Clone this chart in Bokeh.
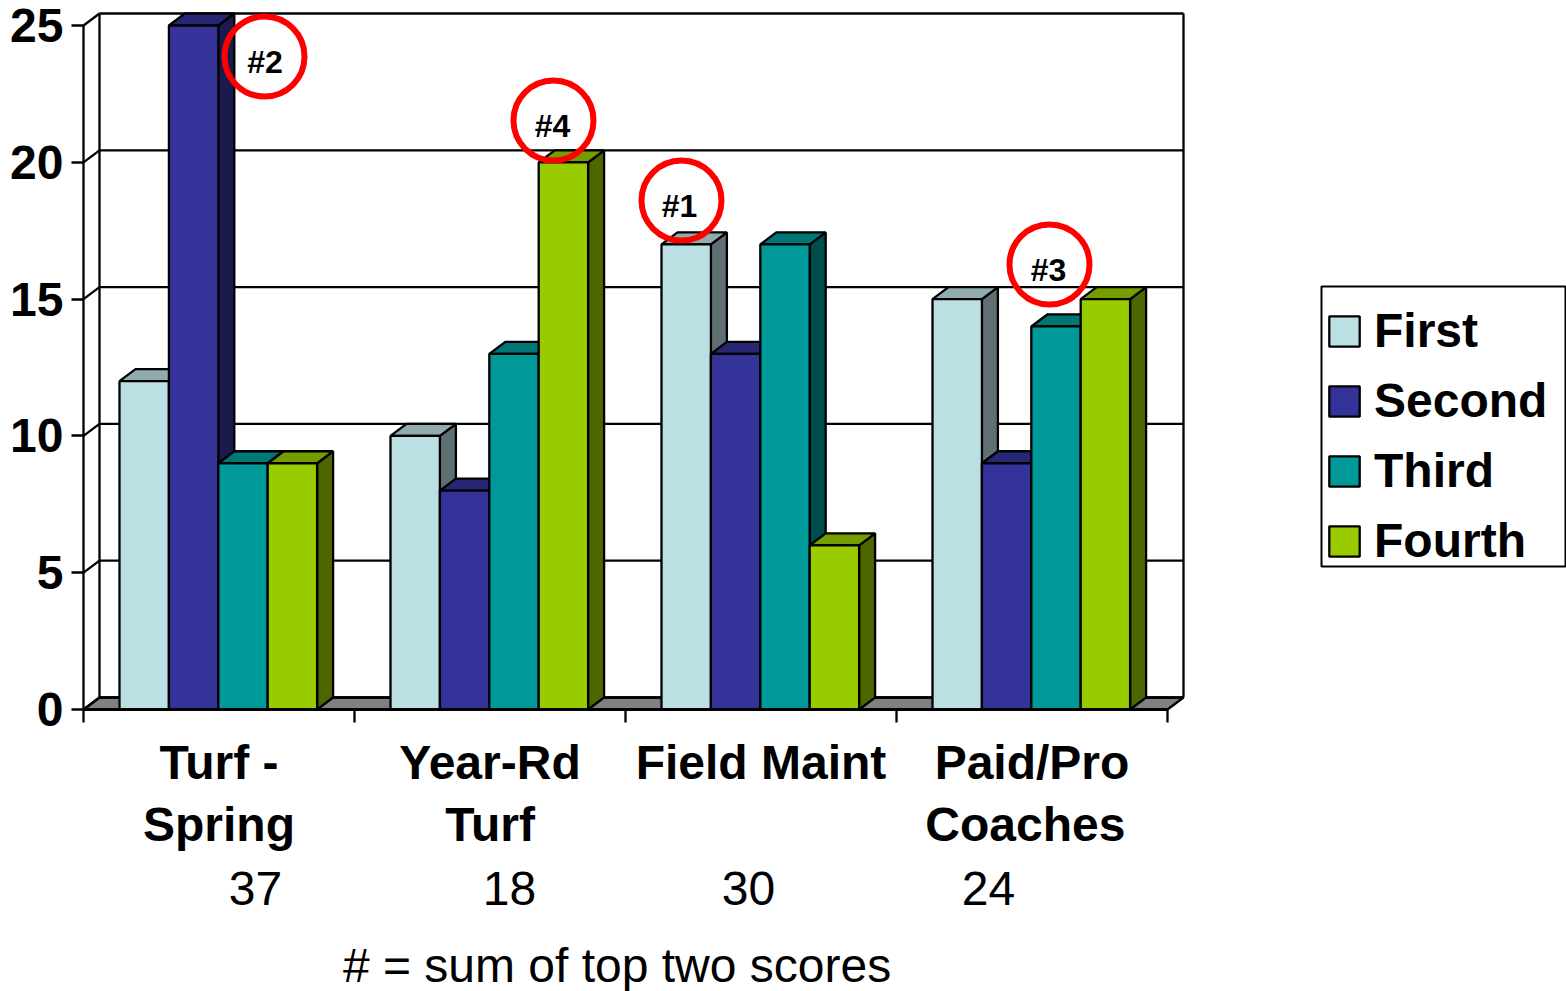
from bokeh.plotting import figure
from bokeh.models import FixedTicker, Legend, LegendItem, LinearAxis, Range1d
from bokeh.core.properties import value
from bokeh.embed import file_html
from bokeh.resources import INLINE

categories = ["Turf -\nSpring", "Year-Rd\nTurf", "Field Maint", "Paid/Pro\nCoaches "]
series_names = ["First", "Second", "Third", "Fourth"]
first = [12, 10, 17, 15]
second = [25, 8, 13, 9]
third = [9, 13, 17, 14]
fourth = [9, 20, 6, 15]
totals = ["37", "18", "30", "24"]
y_ticks = [0, 5, 10, 15, 20, 25]
front_colors = ["#BBE0E3", "#333399", "#009999", "#99CC00"]
top_colors = ["#90ACAE", "#272776", "#007676", "#769D00"]
side_colors = ["#5E7072", "#1A1A4D", "#004D4D", "#4D6600"]
rank_labels = ["#2", "#4", "#1", "#3"]
rank_x_px = [264, 553, 681, 1049]
rank_y_px = [56, 120, 200, 264]
rank_text_x_px = [264.5, 552, 679, 1048]
rank_text_y_px = [61, 125, 205.5, 269.5]
total_x_px = [255, 509, 748, 988]
FONT = "Liberation Sans"

W, H = 1566, 991
L, B = 83, 709
PX_X = 271.0
PX_Y = 27.36
DX = 16 / PX_X
DY = 12 / PX_Y
BAR = 49.4 / PX_X
OFFSET = 36 / PX_X
EDGE = 2.3


def dx(px):
    return (px - L) / PX_X


def dy(py):
    return (B - py) / PX_Y


p = figure(width=W, height=H, output_backend="svg", toolbar_location=None,
           x_range=Range1d(dx(0), dx(W)), y_range=Range1d(dy(H), dy(0)),
           x_axis_location=None, y_axis_location=None,
           min_border_left=0, min_border_right=0, min_border_top=0, min_border_bottom=0,
           outline_line_color=None)
p.grid.visible = False

n_groups = len(categories)
top_y = max(y_ticks)

# walls and floor
p.patch([0, DX, n_groups + DX, n_groups], [0, DY, DY, 0],
        fill_color="#808080", line_color="black", line_width=EDGE)
p.segment([DX] * len(y_ticks), [t + DY for t in y_ticks],
          [n_groups + DX] * len(y_ticks), [t + DY for t in y_ticks], line_color="black", line_width=EDGE)
p.segment([0] * len(y_ticks), y_ticks, [DX] * len(y_ticks), [t + DY for t in y_ticks],
          line_color="black", line_width=EDGE)
p.segment([DX, n_groups + DX], [DY, DY], [DX, n_groups + DX], [top_y + DY, top_y + DY],
          line_color="black", line_width=EDGE)

# 3D bars
legend_items = []
for s, (name, vals) in enumerate(zip(series_names, [first, second, third, fourth])):
    lefts = [g + OFFSET + s * BAR for g in range(n_groups)]
    rights = [x + BAR for x in lefts]
    p.patches([[r, r + DX, r + DX, r] for r in rights],
              [[0, DY, v + DY, v] for v in vals],
              fill_color=side_colors[s], line_color="black", line_width=EDGE)
    p.patches([[x, x + DX, r + DX, r] for x, r in zip(lefts, rights)],
              [[v, v + DY, v + DY, v] for v in vals],
              fill_color=top_colors[s], line_color="black", line_width=EDGE)
    bars = p.vbar(x=[(x + r) / 2 for x, r in zip(lefts, rights)], top=vals, bottom=0, width=BAR,
                  fill_color=front_colors[s], line_color="black", line_width=EDGE)
    legend_items.append(LegendItem(label=name, renderers=[bars]))

# axes
yaxis = LinearAxis(fixed_location=0, ticker=FixedTicker(ticks=y_ticks), bounds=(0, top_y),
                   axis_line_color="black", axis_line_width=EDGE,
                   major_tick_in=0, major_tick_out=12, major_tick_line_width=EDGE,
                   minor_tick_line_color=None, major_label_standoff=8,
                   major_label_text_font=FONT, major_label_text_font_size="48px",
                   major_label_text_font_style="bold", major_label_text_color="black")
p.add_layout(yaxis, "left")

centers = [g + 0.5 for g in range(n_groups)]
xaxis = LinearAxis(fixed_location=0,
                   ticker=FixedTicker(ticks=centers, minor_ticks=list(range(n_groups + 1))),
                   major_label_overrides=dict(zip(centers, categories)), bounds=(0, n_groups),
                   axis_line_color="black", axis_line_width=3,
                   major_tick_line_color=None, major_tick_in=0, major_tick_out=0,
                   minor_tick_in=0, minor_tick_out=13, minor_tick_line_width=EDGE,
                   major_label_standoff=13, major_label_text_font=FONT,
                   major_label_text_font_size="48px", major_label_text_font_style="bold",
                   major_label_text_color="black", major_label_text_line_height=1.185,
                   major_label_orientation="horizontal")
p.add_layout(xaxis, "below")

# rank circles and their texts
p.scatter([dx(x) for x in rank_x_px], [dy(y) for y in rank_y_px], marker="circle", size=80,
          fill_color=None, line_color="#FF0000", line_width=6)
p.text([dx(x) for x in rank_text_x_px], [dy(y) for y in rank_text_y_px], text=rank_labels,
       text_font=value(FONT), text_font_size="32px", text_font_style="bold", text_color="black",
       text_align="center", text_baseline="middle")

# totals and note below the axis
p.text([dx(x) for x in total_x_px], [dy(888)] * len(totals), text=totals,
       text_font=value(FONT), text_font_size="48px", text_color="black",
       text_align="center", text_baseline="middle")
p.text([dx(616.5)], [dy(965)], text=["# = sum of top two scores"],
       text_font=value(FONT), text_font_size="48px", text_color="black",
       text_align="center", text_baseline="middle")

# legend frame and legend
p.quad(left=[dx(1321)], right=[dx(1565)], top=[dy(286)], bottom=[dy(566)],
       fill_color="white", line_color="black", line_width=2)
legend = Legend(items=legend_items, location=(1325, H - 568), orientation="vertical",
                border_line_color=None, background_fill_alpha=0,
                padding=8, margin=0, spacing=15, glyph_width=38, glyph_height=38,
                label_standoff=11, label_text_font=FONT,
                label_text_font_size="48px",
                label_text_font_style="bold", label_text_color="black")
p.add_layout(legend, "center")

open("out.html", "w").write(file_html(p, INLINE))
